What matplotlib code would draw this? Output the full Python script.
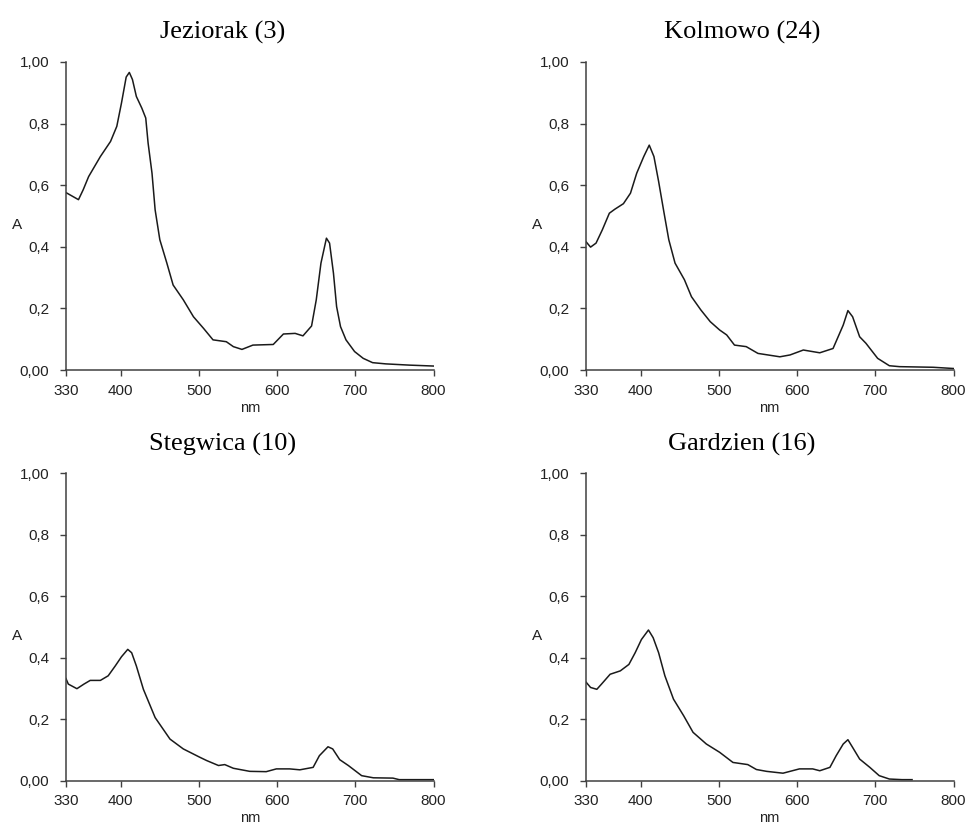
import matplotlib
matplotlib.use("Agg")
import matplotlib.pyplot as plt
import matplotlib.transforms as mtransforms

# =============================================================================
# DANE — widma absorpcji
# =============================================================================
jez_nm = [330, 346, 352, 359, 374, 387, 395, 401, 407, 411, 415, 420, 427, 432,
          435, 440, 444, 450, 459, 467, 480, 493, 506, 518, 535, 544, 555, 569,
          595, 608, 623, 633, 644, 650, 656, 663, 667, 672, 676, 681, 688, 699,
          710, 722, 739, 769, 800]
jez_a = [0.576, 0.553, 0.585, 0.628, 0.693, 0.742, 0.791, 0.867, 0.951, 0.966,
         0.943, 0.888, 0.850, 0.818, 0.737, 0.639, 0.520, 0.423, 0.347, 0.276,
         0.228, 0.173, 0.135, 0.098, 0.092, 0.076, 0.067, 0.081, 0.083, 0.117,
         0.119, 0.111, 0.143, 0.228, 0.347, 0.428, 0.412, 0.314, 0.206, 0.141,
         0.098, 0.060, 0.038, 0.024, 0.020, 0.016, 0.013]

kol_nm = [330, 336, 343, 351, 360, 367, 378, 387, 395, 404, 411, 417, 423, 430,
          436, 444, 456, 465, 477, 489, 501, 510, 520, 535, 550, 578, 591, 608,
          629, 646, 659, 665, 671, 680, 688, 703, 718, 731, 774, 800]
kol_a = [0.417, 0.399, 0.412, 0.455, 0.509, 0.522, 0.540, 0.574, 0.639, 0.693,
         0.730, 0.693, 0.612, 0.509, 0.423, 0.347, 0.293, 0.238, 0.195, 0.157,
         0.130, 0.114, 0.081, 0.076, 0.054, 0.043, 0.049, 0.065, 0.056, 0.070,
         0.146, 0.193, 0.173, 0.108, 0.087, 0.038, 0.014, 0.011, 0.009, 0.005]

ste_nm = [330, 333, 344, 353, 361, 374, 384, 393, 401, 409, 414, 420, 429, 444,
          463, 480, 501, 510, 525, 533, 544, 565, 586, 599, 616, 629, 646, 654,
          665, 671, 680, 691, 708, 723, 748, 756, 800]
ste_a = [0.332, 0.314, 0.299, 0.314, 0.326, 0.326, 0.341, 0.373, 0.403, 0.427,
         0.416, 0.373, 0.297, 0.205, 0.135, 0.103, 0.076, 0.065, 0.049, 0.052,
         0.040, 0.030, 0.029, 0.038, 0.038, 0.035, 0.043, 0.081, 0.110, 0.103,
         0.068, 0.049, 0.016, 0.009, 0.008, 0.003, 0.003]

gar_nm = [330, 336, 344, 350, 361, 374, 385, 393, 401, 410, 416, 423, 431, 442,
          455, 467, 484, 501, 518, 537, 548, 561, 582, 603, 620, 629, 642, 650,
          659, 665, 671, 680, 693, 705, 718, 734, 747]
gar_a = [0.321, 0.303, 0.297, 0.314, 0.346, 0.357, 0.378, 0.416, 0.459, 0.490,
         0.465, 0.416, 0.341, 0.265, 0.211, 0.157, 0.119, 0.092, 0.059, 0.052,
         0.036, 0.030, 0.024, 0.038, 0.038, 0.032, 0.043, 0.081, 0.119, 0.133,
         0.108, 0.070, 0.043, 0.016, 0.005, 0.003, 0.003]

tytuly = ["Jeziorak (3)", "Kolmowo (24)", "Stegwica (10)", "Gardzien (16)"]
serie = [(jez_nm, jez_a), (kol_nm, kol_a), (ste_nm, ste_a), (gar_nm, gar_a)]

x_ticks = [330, 400, 500, 600, 700, 800]
y_ticks = [0.0, 0.2, 0.4, 0.6, 0.8, 1.0]
y_labels = ["0,00", "0,2", "0,4", "0,6", "0,8", "1,00"]

# =============================================================================
# WYKRES
# =============================================================================
fig = plt.figure(figsize=(9.7, 8.26), dpi=100)

pozycje = [
    [0.068, 0.552, 0.379, 0.373],
    [0.604, 0.552, 0.379, 0.373],
    [0.068, 0.055, 0.379, 0.372],
    [0.604, 0.055, 0.379, 0.372],
]

szary = "#404040"
tekst = "#222222"
przesun = mtransforms.ScaledTranslation(0, 0.05, fig.dpi_scale_trans)

for poz, tytul, (nm, a) in zip(pozycje, tytuly, serie):
    ax = fig.add_axes(poz)
    ax.plot(nm, a, color="#1a1a1a", linewidth=1.1)

    ax.set_xlim(330, 800)
    ax.set_ylim(0, 1.0)
    ax.set_xticks(x_ticks)
    ax.set_xticklabels([str(t) for t in x_ticks])
    ax.set_yticks(y_ticks)
    ax.set_yticklabels(y_labels)

    for lab in ax.get_yticklabels():
        lab.set_transform(lab.get_transform() + przesun)

    ax.tick_params(axis="both", direction="out", length=4, width=1.0,
                   color=szary, labelcolor=tekst, labelsize=11)
    ax.tick_params(axis="x", pad=6)
    ax.tick_params(axis="y", pad=8)
    for lab in ax.get_xticklabels() + ax.get_yticklabels():
        lab.set_fontfamily("Liberation Sans")

    ax.spines["top"].set_visible(False)
    ax.spines["right"].set_visible(False)
    ax.spines["left"].set_color(szary)
    ax.spines["bottom"].set_color(szary)
    ax.spines["left"].set_linewidth(1.1)
    ax.spines["bottom"].set_linewidth(1.1)

    ax.set_xlabel("nm", fontsize=10.5, color=tekst, family="Liberation Sans",
                  labelpad=2)
    ax.text(-0.133, 0.47, "A", transform=ax.transAxes, fontsize=11,
            color=tekst, family="Liberation Sans", ha="center", va="center")

    ax.text(0.425, 1.095, tytul, transform=ax.transAxes, fontsize=19,
            family="Liberation Serif", ha="center", va="center", color="black")

plt.savefig("out.png", dpi=100)
plt.close()
